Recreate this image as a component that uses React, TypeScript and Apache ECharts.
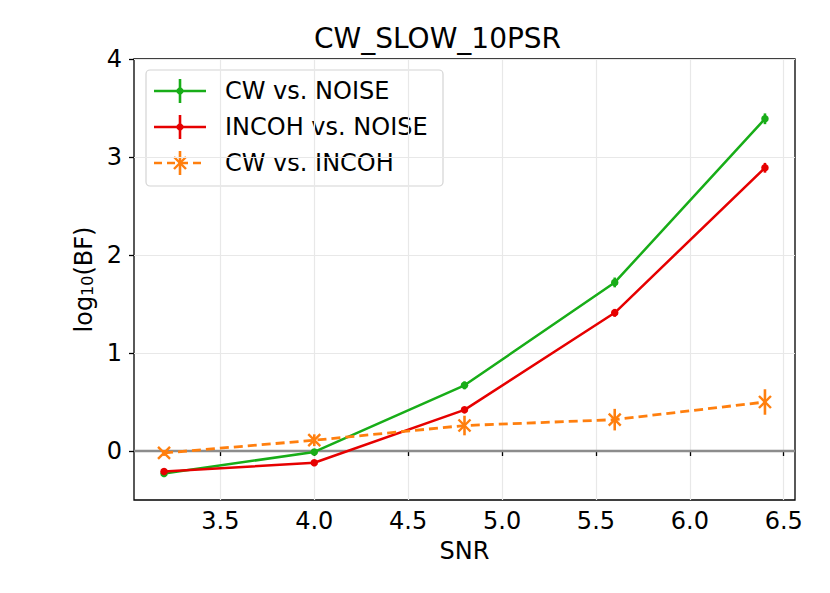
import React, { useEffect, useRef } from "react";
import * as echarts from "echarts";

const SNR = [3.2, 4.0, 4.8, 5.6, 6.4];
const cwNoise = [-0.23, -0.01, 0.67, 1.72, 3.39];
const cwNoiseErr = [0.01, 0.02, 0.04, 0.05, 0.055];
const incohNoise = [-0.21, -0.12, 0.42, 1.41, 2.89];
const incohNoiseErr = [0.01, 0.01, 0.03, 0.04, 0.05];
const cwIncoh = [-0.02, 0.11, 0.26, 0.32, 0.5];
const cwIncohErr = [0.03, 0.06, 0.1, 0.11, 0.13];
const xTicks = [3.5, 4.0, 4.5, 5.0, 5.5, 6.0, 6.5];
const yTicks = [0, 1, 2, 3, 4];
const seriesNames = ["CW vs. NOISE", "INCOH vs. NOISE", "CW vs. INCOH"];

const GREEN = "#18ad18";
const RED = "#e60000";
const ORANGE = "#ff7f0e";
const FONT = "DejaVu Sans";
const FS = 24;
const LW = 2.5;

function errSeries(vals: number[], errs: number[], color: string, xMarker: boolean, z: number) {
  return {
    type: "custom",
    silent: true,
    z,
    data: SNR.map((x, i) => [x, vals[i], errs[i]]),
    renderItem: (params: any, api: any) => {
      const x = api.value(0);
      const y = api.value(1);
      const e = api.value(2);
      const top = api.coord([x, y + e]);
      const bot = api.coord([x, y - e]);
      const children: any[] = [
        {
          type: "line",
          shape: { x1: top[0], y1: top[1], x2: bot[0], y2: bot[1] },
          style: { stroke: color, lineWidth: 2.6 },
        },
      ];
      if (xMarker) {
        const c = api.coord([x, y]);
        const s = 6;
        children.push(
          { type: "line", shape: { x1: c[0] - s, y1: c[1] - s, x2: c[0] + s, y2: c[1] + s }, style: { stroke: color, lineWidth: 2.4 } },
          { type: "line", shape: { x1: c[0] - s, y1: c[1] + s, x2: c[0] + s, y2: c[1] - s }, style: { stroke: color, lineWidth: 2.4 } }
        );
      }
      return { type: "group", children };
    },
  };
}

function legendRow(y: number, color: string, label: string, dashed: boolean) {
  const cx = 180;
  const children: any[] = [
    {
      type: "line",
      shape: { x1: 154, y1: y, x2: 206, y2: y },
      style: { stroke: color, lineWidth: LW, lineDash: dashed ? [8, 5] : null },
    },
    {
      type: "line",
      shape: { x1: cx, y1: y - 12, x2: cx, y2: y + 12 },
      style: { stroke: color, lineWidth: 2.6 },
    },
  ];
  if (dashed) {
    const s = 6;
    children.push(
      { type: "line", shape: { x1: cx - s, y1: y - s, x2: cx + s, y2: y + s }, style: { stroke: color, lineWidth: 2.4 } },
      { type: "line", shape: { x1: cx - s, y1: y + s, x2: cx + s, y2: y - s }, style: { stroke: color, lineWidth: 2.4 } }
    );
  } else {
    children.push({ type: "circle", shape: { cx, cy: y, r: 3.6 }, style: { fill: color } });
  }
  children.push({
    type: "text",
    x: 225,
    y,
    style: { text: label, fontSize: FS, fontFamily: FONT, fill: "#000", verticalAlign: "middle" },
  });
  return children;
}

export default function App() {
  const ref = useRef<HTMLDivElement>(null);
  useEffect(() => {
    document.body.style.margin = "0";
    const chart = echarts.init(ref.current!, null, { renderer: "svg" });
    const option: any = {
      animation: false,
      backgroundColor: "#fff",
      textStyle: { fontFamily: FONT },
      title: {
        text: "CW_SLOW_10PSR",
        left: 314,
        top: 24,
        padding: 0,
        textStyle: { fontSize: 28, fontWeight: "normal", color: "#000", fontFamily: FONT },
      },
      grid: {
        left: 134,
        right: 35,
        top: 59,
        bottom: 93,
        show: true,
        borderColor: "#000",
        borderWidth: 1.3,
        backgroundColor: "transparent",
      },
      xAxis: {
        type: "value",
        min: 3.04,
        max: 6.56,
        name: "SNR",
        nameLocation: "middle",
        nameGap: 39,
        nameTextStyle: { fontSize: FS, color: "#000", fontFamily: FONT },
        axisLine: { show: false },
        axisTick: { show: true, customValues: xTicks, length: 5, lineStyle: { color: "#000", width: 1.3 } },
        axisLabel: {
          customValues: xTicks,
          fontSize: FS,
          color: "#000",
          margin: 9,
          formatter: (v: number) => v.toFixed(1),
        },
        splitLine: { show: true, lineStyle: { color: "#e8e8e8", width: 1.2 } },
      },
      yAxis: {
        type: "value",
        min: -0.5,
        max: 4,
        name: "log{sub|10}(BF)",
        nameLocation: "middle",
        nameGap: 38,
        nameTextStyle: {
          fontSize: FS,
          color: "#000",
          fontFamily: FONT,
          rich: { sub: { fontSize: 16, verticalAlign: "bottom", lineHeight: 16, color: "#000", fontFamily: FONT } },
        },
        axisLine: { show: false },
        axisTick: { show: true, customValues: yTicks, length: 5, lineStyle: { color: "#000", width: 1.3 } },
        axisLabel: {
          customValues: yTicks,
          fontSize: FS,
          color: "#000",
          margin: 12,
          formatter: (v: number) => String(Math.round(v)),
        },
        splitLine: { show: true, lineStyle: { color: "#e8e8e8", width: 1.2 } },
      },
      series: [
        {
          type: "line",
          silent: true,
          z: 1,
          symbol: "none",
          data: [
            [3.04, 0],
            [6.56, 0],
          ],
          lineStyle: { color: "#8c8c8c", width: 2.5 },
        },
        {
          name: seriesNames[0],
          type: "line",
          z: 3,
          data: SNR.map((x, i) => [x, cwNoise[i]]),
          symbol: "circle",
          symbolSize: 7.5,
          itemStyle: { color: GREEN },
          lineStyle: { color: GREEN, width: LW },
        },
        errSeries(cwNoise, cwNoiseErr, GREEN, false, 3),
        {
          name: seriesNames[1],
          type: "line",
          z: 4,
          data: SNR.map((x, i) => [x, incohNoise[i]]),
          symbol: "circle",
          symbolSize: 7.5,
          itemStyle: { color: RED },
          lineStyle: { color: RED, width: LW },
        },
        errSeries(incohNoise, incohNoiseErr, RED, false, 4),
        {
          name: seriesNames[2],
          type: "line",
          z: 5,
          data: SNR.map((x, i) => [x, cwIncoh[i]]),
          symbol: "none",
          itemStyle: { color: ORANGE },
          lineStyle: { color: ORANGE, width: 2.8, type: [9, 5] },
        },
        errSeries(cwIncoh, cwIncohErr, ORANGE, true, 5),
      ],
      graphic: [
        {
          type: "group",
          z: 100,
          children: [
            {
              type: "rect",
              shape: { x: 146, y: 70, width: 297, height: 116, r: 4 },
              style: { fill: "rgba(255,255,255,0.8)", stroke: "#d4d4d4", lineWidth: 1.2 },
            },
            ...legendRow(91, GREEN, seriesNames[0], false),
            ...legendRow(127, RED, seriesNames[1], false),
            ...legendRow(163, ORANGE, seriesNames[2], true),
          ],
        },
      ],
    };
    chart.setOption(option);
    return () => chart.dispose();
  }, []);
  return <div ref={ref} style={{ width: 830, height: 593 }} />;
}
